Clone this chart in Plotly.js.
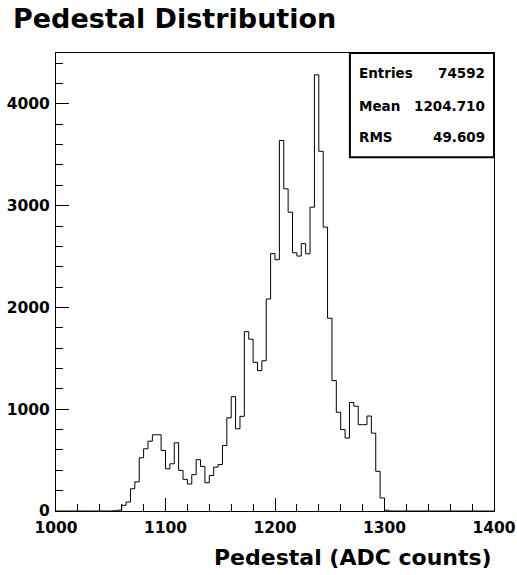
<!DOCTYPE html>
<html><head><meta charset="utf-8">
<script src="https://cdn.plot.ly/plotly-3.0.1.min.js"></script>
<style>html,body{margin:0;padding:0;background:#fff}#chart{width:517px;height:575px}</style>
</head><body><div id="chart"></div>
<script>
// Histogram definition: 100 bins of width 4 from 1000 to 1400
const binLow = 1000;
const binWidth = 4;
const counts = [
  0,0,0,0,0,0,0,0,0,0,0,0,0,          // 1000-1048
  3,8,56,88,219,286,523,611,686,749,   // 1052-1088
  749,595,415,464,670,399,311,265,357,504, // 1092-1128
  438,278,349,431,457,643,915,1123,808,930, // 1132-1168
  1762,1688,1461,1379,1476,2083,2529,2469,3640,3165, // 1172-1208
  2936,2537,2505,2627,2527,2985,4286,3534,2789,1894, // 1212-1248
  1281,970,800,717,1066,1030,848,848,933,765,        // 1252-1288
  390,128,8,                                          // 1292-1300
  0,0,0,0,0,0,0,0,0,0,0,0,0,0,0,0,0,0,0,0,0,0,0,0   // 1304-1396
];
const statLabels = ['Entries', 'Mean', 'RMS'];
const statValues = ['74592', '1204.710', '49.609'];
const xTickVals = [1000, 1100, 1200, 1300, 1400];
const yTickVals = [0, 1000, 2000, 3000, 4000];
const chartTitle = 'Pedestal Distribution';
const xTitle = 'Pedestal (ADC counts)';

const edges = counts.map((c, i) => binLow + i * binWidth);
edges.push(binLow + counts.length * binWidth);
const stepY = counts.concat([counts[counts.length - 1]]);

const FONT = 'DejaVu Sans, Arial, sans-serif';

const trace = {
  type: 'scatter', mode: 'lines',
  x: edges, y: stepY,
  line: {shape: 'hv', color: '#000', width: 1},
  hoverinfo: 'skip', showlegend: false
};

const statRowY = [0.957, 0.884, 0.817];
const annotations = [];
statLabels.forEach((lab, i) => {
  annotations.push({xref: 'paper', yref: 'paper', x: 0.687, y: statRowY[i], xanchor: 'left', yanchor: 'middle',
    text: lab, showarrow: false, font: {family: FONT, size: 13.5, weight: 'bold', color: '#000'}});
  annotations.push({xref: 'paper', yref: 'paper', x: 0.984, y: statRowY[i], xanchor: 'right', yanchor: 'middle',
    text: statValues[i], showarrow: false, font: {family: FONT, size: 13.5, weight: 'bold', color: '#000'}});
});
annotations.push({xref: 'paper', yref: 'paper', x: 1, y: -0.1026, xanchor: 'right', yanchor: 'middle',
  text: xTitle, showarrow: false, font: {family: FONT, size: 22, weight: 'bold', color: '#000'}});

const layout = {
  width: 517, height: 575,
  margin: {l: 56, r: 23, t: 53, b: 64},
  paper_bgcolor: '#fff', plot_bgcolor: '#fff',
  title: {text: chartTitle, x: 13 / 517, xanchor: 'left', xref: 'container', y: 1 - 19 / 575, yanchor: 'middle', yref: 'container',
    font: {family: FONT, size: 27, weight: 'bold', color: '#000'}},
  xaxis: {
    range: [1000, 1400], tickvals: xTickVals, ticktext: xTickVals.map(String),
    ticks: 'inside', ticklen: 13, tickwidth: 1, tickcolor: '#000',
    minor: {dtick: 20, tick0: 1000, ticks: 'inside', ticklen: 7, tickwidth: 1, tickcolor: '#000'},
    showline: true, mirror: true, linecolor: '#000', linewidth: 1,
    showgrid: false, zeroline: false,
    tickfont: {family: FONT, size: 15.5, weight: 'bold', color: '#000'},
    ticklabelstandoff: 2
  },
  yaxis: {
    range: [0, 4500], tickvals: yTickVals, ticktext: yTickVals.map(String),
    ticks: 'inside', ticklen: 13, tickwidth: 1, tickcolor: '#000',
    minor: {dtick: 200, tick0: 0, ticks: 'inside', ticklen: 7, tickwidth: 1, tickcolor: '#000'},
    showline: true, mirror: true, linecolor: '#000', linewidth: 1,
    showgrid: false, zeroline: false,
    tickfont: {family: FONT, size: 15.5, weight: 'bold', color: '#000'},
    ticklabelstandoff: 2
  },
  shapes: [{type: 'rect', xref: 'paper', yref: 'paper', x0: 0.671, x1: 1, y0: 0.7724, y1: 1,
    line: {color: '#000', width: 2}, fillcolor: '#fff', layer: 'above'}],
  annotations: annotations
};

Plotly.newPlot('chart', [trace], layout, {staticPlot: true, displayModeBar: false});
</script>
</body></html>
